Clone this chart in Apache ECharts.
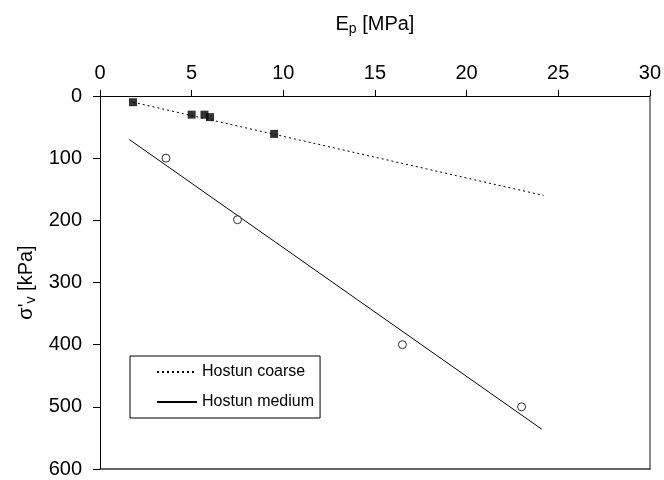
<!DOCTYPE html>
<html>
<head>
<meta charset="utf-8">
<script src="https://cdn.jsdelivr.net/npm/echarts@6/dist/echarts.min.js"></script>
<style>html,body{margin:0;padding:0;background:#fff}#c{width:664px;height:480px}</style>
</head>
<body>
<div id="c"></div>
<script>
var xTicks = [0, 5, 10, 15, 20, 25, 30];
var yTicks = [0, 100, 200, 300, 400, 500, 600];
var coarsePoints = [[1.8, 10], [5.0, 30], [5.7, 30], [6.0, 34], [9.5, 61]];
var mediumPoints = [[3.6, 100], [7.5, 199], [16.5, 400], [23.0, 500]];
var coarseTrend = [[1.8, 10], [24.2, 160]];
var mediumTrend = [[1.6, 70], [24.1, 536]];
var seriesNames = ['Hostun coarse', 'Hostun medium'];

var FONT = 'Liberation Sans';
var chart = echarts.init(document.getElementById('c'));
chart.setOption({
  animation: false,
  backgroundColor: '#fff',
  textStyle: { fontFamily: FONT },
  grid: { left: 100, top: 96, right: 14, bottom: 11, containLabel: false },
  xAxis: [{
    type: 'value', position: 'top', min: xTicks[0], max: xTicks[xTicks.length - 1], interval: 5,
    name: 'E{sub|p} [MPa]', nameLocation: 'middle', nameGap: 60,
    nameTextStyle: { fontFamily: FONT, fontSize: 20, color: '#000',
      rich: { sub: { fontFamily: FONT, fontSize: 14, color: '#000', verticalAlign: 'bottom', padding: [9, 0, 0, 0] } } },
    axisLine: { show: true, lineStyle: { color: '#000', width: 1 } },
    axisTick: { show: true, inside: false, length: 6, lineStyle: { color: '#000' } },
    axisLabel: { fontFamily: FONT, fontSize: 20, color: '#000', margin: 13 },
    splitLine: { show: false }
  }, {
    type: 'value', position: 'bottom', min: 0, max: 30,
    axisLine: { show: true, onZero: false, lineStyle: { color: '#333', width: 1.5 } },
    axisTick: { show: false }, axisLabel: { show: false }, splitLine: { show: false }
  }],
  yAxis: [{
    type: 'value', inverse: true, min: yTicks[0], max: yTicks[yTicks.length - 1], interval: 100,
    name: "σ'{sub|v} [kPa]", nameLocation: 'middle', nameGap: 62, nameRotate: 90,
    nameTextStyle: { fontFamily: FONT, fontSize: 20, color: '#000',
      rich: { sub: { fontFamily: FONT, fontSize: 14, color: '#000', verticalAlign: 'bottom', padding: [9, 0, 0, 0] } } },
    axisLine: { show: true, lineStyle: { color: '#000', width: 1 } },
    axisTick: { show: true, inside: false, length: 7, lineStyle: { color: '#000' } },
    axisLabel: { fontFamily: FONT, fontSize: 20, color: '#000', margin: 18 },
    splitLine: { show: false }
  }, {
    type: 'value', position: 'right', inverse: true, min: 0, max: 600,
    axisLine: { show: true, onZero: false, lineStyle: { color: '#888', width: 2 } },
    axisTick: { show: false }, axisLabel: { show: false }, splitLine: { show: false }
  }],
  legend: {
    orient: 'vertical', left: 130, top: 356,
    data: [seriesNames[0], seriesNames[1]],
    itemWidth: 40, itemHeight: 14, itemGap: 14,
    padding: [8, 6, 8, 26],
    borderColor: '#000', borderWidth: 1, borderRadius: 0,
    itemStyle: { opacity: 0 },
    textStyle: { fontFamily: FONT, fontSize: 16, color: '#000' }
  },
  series: [{
    name: seriesNames[0], type: 'line', data: coarseTrend, symbol: 'none', showSymbol: false,
    lineStyle: { color: '#000', width: 1, type: [2, 3] }, itemStyle: { color: '#000' }
  }, {
    name: seriesNames[1], type: 'line', data: mediumTrend, symbol: 'none', showSymbol: false,
    lineStyle: { color: '#000', width: 1, type: 'solid' }, itemStyle: { color: '#000' }
  }, {
    name: 'coarse data', type: 'scatter', data: coarsePoints, symbol: 'rect', symbolSize: 8,
    itemStyle: { color: '#000' }, z: 5
  }, {
    name: 'medium data', type: 'scatter', data: mediumPoints, symbol: 'circle', symbolSize: 8,
    itemStyle: { color: '#fff', borderColor: '#000', borderWidth: 1 }, z: 5
  }]
});
</script>
</body>
</html>
